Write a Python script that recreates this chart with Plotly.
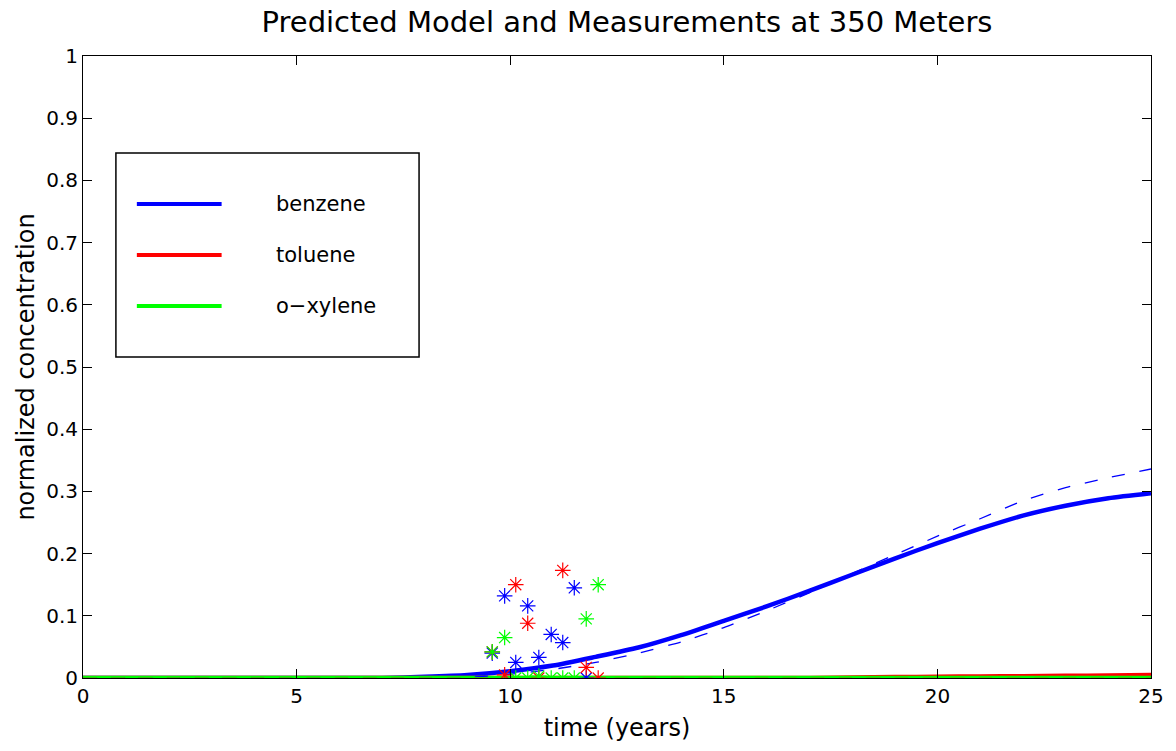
import plotly.graph_objects as go

# Model time grid (years) and predicted normalized concentrations
t_model = list(range(0, 26))
benzene_pred = [0, 0, 0, 0, 0, 0, 0, 0, 0.002, 0.005, 0.011, 0.020, 0.034, 0.049,
                0.069, 0.092, 0.115, 0.140, 0.166, 0.192, 0.217, 0.240, 0.261,
                0.277, 0.289, 0.297]
toluene_pred = [0] * 18 + [0.001, 0.0015, 0.002, 0.0025, 0.003, 0.0035, 0.004, 0.005]
xylene_pred = [0] * 26

# Fitted (dashed) curves
benzene_fit = [0, 0, 0, 0, 0, 0, 0, 0, 0, 0.001, 0.006, 0.014, 0.025, 0.040,
               0.058, 0.081, 0.108, 0.137, 0.168, 0.198, 0.228, 0.256, 0.285,
               0.306, 0.322, 0.336]
toluene_fit = [0] * 26
xylene_fit = [0] * 26

# Field measurements
t_obs = [9.58, 9.87, 10.13, 10.41, 10.67, 10.96, 11.23, 11.50, 11.78, 12.06]
benzene_obs = [0.040, 0.132, 0.025, 0.116, 0.033, 0.070, 0.057, 0.145, 0.000, None]
toluene_obs = [0.042, 0.005, 0.150, 0.088, 0.000, None, 0.173, None, 0.017, 0.000]
xylene_obs = [0.042, 0.065, 0.000, 0.000, 0.003, 0.000, 0.000, 0.000, 0.095, 0.150]

names = ["benzene", "toluene", "o\u2212xylene"]
colors = ["#0000ff", "#ff0000", "#00ff00"]
preds = [benzene_pred, toluene_pred, xylene_pred]
fits = [benzene_fit, toluene_fit, xylene_fit]
obs = [benzene_obs, toluene_obs, xylene_obs]

FONT = "DejaVu Sans, Verdana, sans-serif"

fig = go.Figure()

for y, c in zip(preds, colors):
    fig.add_trace(go.Scatter(x=t_model, y=y, mode="lines",
                             line=dict(color=c, width=4.5, shape="spline", smoothing=0.6),
                             showlegend=False, hoverinfo="skip"))
for y, c in zip(fits, colors):
    fig.add_trace(go.Scatter(x=t_model, y=y, mode="lines",
                             line=dict(color=c, width=1.3, dash="13px,15px",
                                       shape="spline", smoothing=0.6),
                             showlegend=False, hoverinfo="skip"))
for y, c in zip(obs, colors):
    fig.add_trace(go.Scatter(x=t_obs, y=y, mode="markers",
                             marker=dict(symbol="asterisk-open", size=13, color=c,
                                         line=dict(color=c, width=1.2)),
                             showlegend=False))

# Plot area geometry (pixels)
W, H = 1176, 751
L, R, T, B = 83, 22, 56, 73
pw, ph = W - L - R, H - T - B


def px(x):
    return (x - L) / pw


def py(y):
    return (H - B - y) / ph


shapes = [dict(type="rect", xref="paper", yref="paper",
               x0=px(116), x1=px(420), y0=py(357), y1=py(153),
               line=dict(color="black", width=1.5), fillcolor="white", layer="above")]
annotations = []
for i, (n, c) in enumerate(zip(names, colors)):
    yy = py(204 + i * 51)
    shapes.append(dict(type="line", xref="paper", yref="paper",
                       x0=px(137), x1=px(222), y0=yy, y1=yy,
                       line=dict(color=c, width=4), layer="above"))
    annotations.append(dict(xref="paper", yref="paper", x=px(275), y=yy,
                            text=n, showarrow=False, xanchor="left", yanchor="middle",
                            font=dict(family=FONT, size=21, color="black")))

axis_common = dict(showgrid=False, zeroline=False, showline=True, linecolor="black",
                   linewidth=1, mirror="ticks", ticks="inside", ticklen=9,
                   tickcolor="black", tickfont=dict(family=FONT, size=20, color="black"))

fig.update_layout(
    width=W, height=H,
    margin=dict(l=L, r=R, t=T, b=B),
    paper_bgcolor="white", plot_bgcolor="white",
    title=dict(text="Predicted Model and Measurements at 350 Meters",
               x=627 / W, xanchor="center", y=1 - 22 / H, yanchor="middle",
               font=dict(family=FONT, size=29, color="black")),
    xaxis=dict(range=[0, 25], tickvals=[0, 5, 10, 15, 20, 25],
               title=dict(text="time (years)", standoff=12,
                          font=dict(family=FONT, size=24, color="black")),
               **axis_common),
    yaxis=dict(range=[0, 1], tickvals=[i / 10 for i in range(11)],
               ticktext=["0", "0.1", "0.2", "0.3", "0.4", "0.5", "0.6", "0.7", "0.8", "0.9", "1"],
               title=dict(text="normalized concentration", standoff=4,
                          font=dict(family=FONT, size=24, color="black")),
               **axis_common),
    shapes=shapes, annotations=annotations,
    showlegend=False,
)

fig.write_html("out.html")
